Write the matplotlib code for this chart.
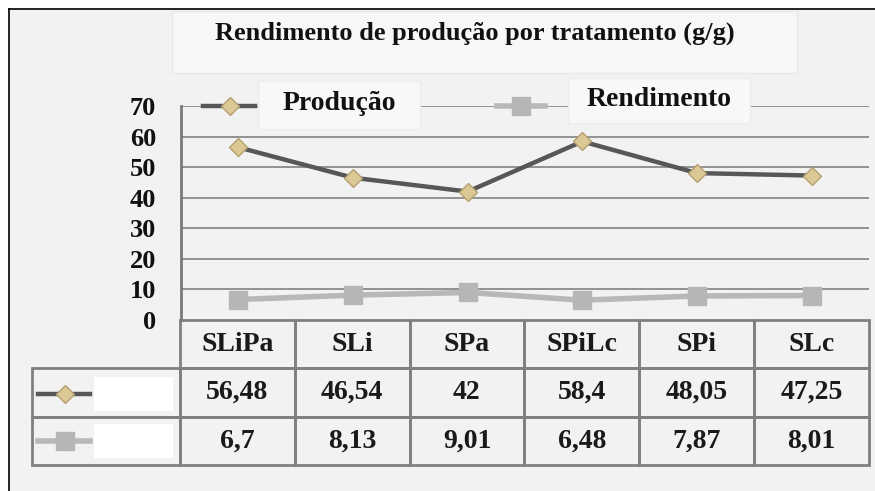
import matplotlib.pyplot as plt
import matplotlib.patches as patches
from matplotlib.lines import Line2D
import numpy as np

tratamentos = ["SLiPa", "SLi", "SPa", "SPiLc", "SPi", "SLc"]
producao = [56.48, 46.54, 42, 58.4, 48.05, 47.25]
rendimento = [6.7, 8.13, 9.01, 6.48, 7.87, 8.01]
y_ticks = [0, 10, 20, 30, 40, 50, 60, 70]
titulo = "Rendimento de produção por tratamento (g/g)"
nomes = ["Produção", "Rendimento"]

W, H = 875, 491


def fx(px):
    return px / W


def fy(py):
    return 1 - py / H


def fmt(v):
    return f"{v:g}".replace(".", ",")


plt.rcParams['font.family'] = ['Liberation Serif', 'DejaVu Serif']
plt.rcParams['font.weight'] = 'bold'

prod_style = dict(color='#575757', lw=3.2, marker='D', ms=9,
                  mfc='#dcc894', mec='#b3a170', mew=1)
rend_style = dict(color='#b8b8b8', lw=4, marker='s', ms=13,
                  mfc='#b6b6b6', mec='#b6b6b6')

fig = plt.figure(figsize=(8.75, 4.91), dpi=100, facecolor='white')
fig.add_artist(patches.Rectangle((fx(9), 0), 1, fy(9), transform=fig.transFigure,
                                 facecolor='#f2f2f2', edgecolor='none', zorder=-10))
fig.add_artist(Line2D([fx(9), fx(9)], [0, fy(9)], color='black', lw=1.2))
fig.add_artist(Line2D([fx(9), 1], [fy(9), fy(9)], color='black', lw=1.2))

# titulo
fig.add_artist(patches.Rectangle((fx(172), fy(73)), fx(797) - fx(172), fy(11) - fy(73),
                                 transform=fig.transFigure, facecolor='#f7f7f7',
                                 edgecolor='#e8e8e8', lw=1))
fig.text(fx(475), fy(33), titulo, ha='center', va='center', fontsize=19, color='#111111')

ax = fig.add_axes([fx(181), fy(320), fx(869) - fx(181), fy(106) - fy(320)])
ax.set_facecolor('none')
x = np.arange(len(tratamentos))
ax.set_xlim(-0.5, len(tratamentos) - 0.5)
ax.set_ylim(0, 70)
ax.set_yticks(y_ticks)
ax.yaxis.grid(True, color='#8a8a8a', lw=1.3)
ax.set_axisbelow(True)
ax.tick_params(axis='y', length=0, pad=18, labelsize=19, labelcolor='#111111')
ax.set_xticks([])
for s in ['top', 'right', 'bottom']:
    ax.spines[s].set_visible(False)
ax.spines['left'].set_color('#7a7a7a')
ax.spines['left'].set_linewidth(2)

ax.plot(x, producao, zorder=4, clip_on=False, **prod_style)
ax.plot(x, rendimento, zorder=3, clip_on=False, **rend_style)

# tabela de dados (primeira coluna = legenda)
cell_text = [[''] + [fmt(v) for v in producao], [''] + [fmt(v) for v in rendimento]]
ax_w, ax_h = 869 - 181, 320 - 106
tab = ax.table(cellText=cell_text, colLabels=[''] + tratamentos, cellLoc='center',
               bbox=[(32 - 181) / ax_w, -(465 - 320) / ax_h, (869 - 32) / ax_w, 145 / ax_h])
tab.auto_set_font_size(False)
tab.set_fontsize(20)
for (r, c), cell in tab.get_celld().items():
    cell.set_width(148 if c == 0 else 115)
    cell.set_height(48)
    cell.set_edgecolor('#808080')
    cell.set_linewidth(2)
    cell.set_facecolor('none')
    cell.get_text().set_fontweight('bold')
    cell.get_text().set_color('#1a1a1a')
    if r == 0 and c == 0:
        cell.set_visible(False)

# amostras da legenda na tabela
for yc, st in [(394, prod_style), (441, rend_style)]:
    fig.add_artist(Line2D([fx(38), fx(90)], [fy(yc), fy(yc)], color=st['color'], lw=st['lw']))
    fig.add_artist(Line2D([fx(65)], [fy(yc)], ls='none', marker=st['marker'], ms=st['ms'],
                          mfc=st['mfc'], mec=st['mec']))
    fig.add_artist(patches.Rectangle((fx(94), fy(yc + 17)), fx(173) - fx(94), fy(yc - 17) - fy(yc + 17),
                                     transform=fig.transFigure, facecolor='white', edgecolor='none'))

# legenda superior
leg = [(nomes[0], prod_style, (203, 255), 230, (258, 420, 81, 129), (339, 104)),
       (nomes[1], rend_style, (497, 545), 521, (568, 750, 78, 123), (659, 100))]
for nome, st, (l0, l1), mx, (bx0, bx1, by0, by1), (tx, ty) in leg:
    fig.add_artist(patches.Rectangle((fx(bx0), fy(by1)), fx(bx1) - fx(bx0), fy(by0) - fy(by1),
                                     transform=fig.transFigure, facecolor='#f8f8f8',
                                     edgecolor='#ececec', lw=1))
    fig.add_artist(Line2D([fx(l0), fx(l1)], [fy(106), fy(106)], color=st['color'], lw=st['lw']))
    fig.add_artist(Line2D([fx(mx)], [fy(106)], ls='none', marker=st['marker'], ms=st['ms'],
                          mfc=st['mfc'], mec=st['mec']))
    fig.text(fx(tx), fy(ty), nome, ha='center', va='center', fontsize=20, color='#111111')

fig.savefig('out.png', dpi=100, facecolor=fig.get_facecolor())
